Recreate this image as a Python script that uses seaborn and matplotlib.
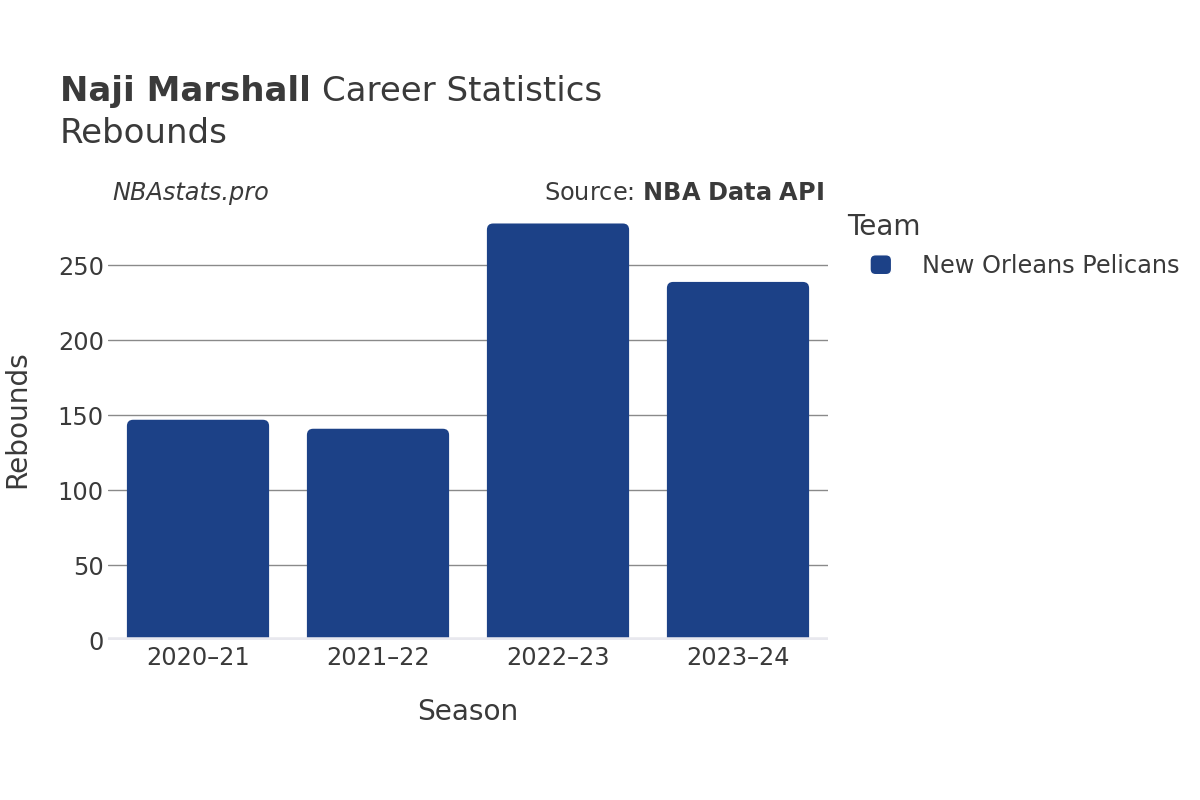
import pandas as pd
import matplotlib.pyplot as plt
import seaborn as sns
from matplotlib.patches import FancyBboxPatch, Patch
from matplotlib.legend_handler import HandlerPatch

# Dados
temporadas = ["2020–21", "2021–22", "2022–23", "2023–24"]
rebotes = [147, 141, 278, 239]
time = ["New Orleans Pelicans"] * 4
cor_time = "#1c4187"

df = pd.DataFrame({"Season": temporadas, "Rebounds": rebotes, "Team": time})

sns.set_style("white")
plt.rcParams['font.family'] = ['DejaVu Sans']
texto = "#3a3a3a"

fig = plt.figure(figsize=(12, 8), dpi=100)
ax = fig.add_axes([0.09, 0.2, 0.6, 0.5375])

sns.barplot(x="Season", y="Rebounds", data=df, hue="Team", palette=[cor_time],
            width=0.79, errorbar=None, legend=False, ax=ax)

ax.set_ylim(0, 287)
ax.set_xlim(-0.5, 3.5)

# Barras com cantos arredondados (só o topo aparece, a base fica abaixo do zero)
asp = 120  # px por unidade em x / px por unidade em y
r = 0.035
for p in list(ax.patches):
    x, w, h = p.get_x(), p.get_width(), p.get_height()
    base = -8
    caixa = FancyBboxPatch((x + r, base + r * asp), w - 2 * r, h - base - 2 * r * asp,
                           boxstyle=f"round,pad={r},rounding_size={r}",
                           mutation_aspect=asp, facecolor=cor_time, edgecolor="none",
                           zorder=3, clip_on=True)
    p.remove()
    ax.add_patch(caixa)

ax.set_yticks([0, 50, 100, 150, 200, 250])
ax.grid(axis="y", color="#8a8a8a", linewidth=1, zorder=0)
ax.axhline(0, color="#e8e8ee", linewidth=4, zorder=4)
for s in ax.spines.values():
    s.set_visible(False)
ax.tick_params(axis="both", labelsize=17.3, colors=texto, length=0)
ax.tick_params(axis="x", pad=4)
ax.tick_params(axis="y", pad=3)
ax.set_xlabel("")
ax.set_ylabel("")
fig.text(468 / 1200, 1 - 712 / 800, "Season", fontsize=20.2, color=texto, ha="center", va="center")
fig.text(17 / 1200, 1 - 419 / 800, "Rebounds", fontsize=20.2, color=texto, ha="center",
         va="center", rotation=90)

# Títulos
t1 = fig.text(0.05, 0.874, "Naji Marshall", fontsize=24.5, fontweight="bold", color=texto, va="baseline")
fig.canvas.draw()
bb = t1.get_window_extent(fig.canvas.get_renderer()).transformed(fig.transFigure.inverted())
fig.text(bb.x1 + 0.009, 0.874, "Career Statistics", fontsize=24.5, color=texto, va="baseline")
fig.text(0.05, 0.821, "Rebounds", fontsize=24.5, color=texto, va="baseline")
fig.text(0.094, 0.75, "NBAstats.pro", fontsize=17.3, style="italic", color=texto, va="baseline")
fig.text(0.687, 0.75, "Source: $\\bf{NBA\\ Data\\ API}$", fontsize=17.3, color=texto,
         va="baseline", ha="right")

# Legenda
fig.text(847 / 1200, 1 - 227 / 800, "Team", fontsize=20.2, color=texto, va="center")


def caixa_legenda(legend, orig_handle, xdescent, ydescent, width, height, fontsize):
    return FancyBboxPatch((-xdescent + 2, -ydescent + 2), width - 4, height - 4,
                          boxstyle="round,pad=2,rounding_size=4")


leg = fig.legend(handles=[Patch(facecolor=cor_time, label="New Orleans Pelicans")],
                 loc="center left", bbox_to_anchor=(870 / 1200, 1 - 266 / 800),
                 frameon=False, fontsize=17.3, borderpad=0, borderaxespad=0,
                 handlelength=0.9, handleheight=0.9, handletextpad=1.25,
                 handler_map={Patch: HandlerPatch(patch_func=caixa_legenda)})
for t in leg.get_texts():
    t.set_color(texto)

plt.savefig("out.png", dpi=100)
